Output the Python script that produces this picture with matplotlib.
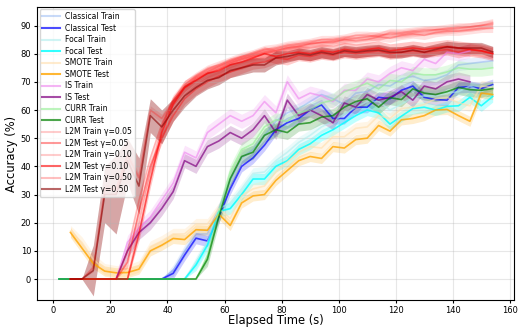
import numpy as np
import matplotlib
matplotlib.use('Agg')
from matplotlib import pyplot as plt

plt.rcParams['font.family'] = ['DejaVu Sans']

N = None
# elapsed time (s) of each logged epoch
t = [2, 6, 10, 14, 18, 22, 26, 30, 34, 38, 42, 46, 50, 54, 58, 62, 66, 70, 74, 78,
     82, 86, 90, 94, 98, 102, 106, 110, 114, 118, 122, 126, 130, 134, 138, 142, 146, 150, 154]

classical_train = [0, 0, 0, 0, 0, 0, 0, 0, 0, 0, 3, 10, 16, 16, 25, 35, 43, 46, 51, 56,
                   59, 60.5, 63, 65.5, 64, 62, 66, 66.5, 69, 68.5, 71, 72, 70.5, 71, 72.5, 76, 76.5, 77, 77.5]
classical_test = [0, 0, 0, 0, 0, 0, 0, 0, 0, 0, 2, 8.5, 14.5, 13.5, 22, 32, 40, 43, 47.5, 53,
                  55.5, 57, 60, 61.8, 57, 57, 61, 61, 64.5, 64, 67, 68.5, 64.5, 63.7, 63.5, 68, 68.3, 67.6, 69]
focal_train = [0, 0, 0, 0, 0, 0, 0, 0, 0, 0, 0, 0, 6, 13, 25, 27, 32, 37.5, 38, 42,
               45, 48.5, 51, 54, 56, 58.5, 61, 63, 63, 60, 62, 64.5, 65, 65, 66, 66.5, 68.5, 66.5, 68.5]
focal_test = [0, 0, 0, 0, 0, 0, 0, 0, 0, 0, 0, 0, 5, 12, 24, 25, 30, 35.5, 35.5, 40,
              42, 46, 48, 51, 53, 55.5, 58, 60, 59, 55, 57.8, 60.5, 61, 60, 61.3, 61.5, 64.5, 61.5, 64.8]
smote_train = [N, 17, 13, 7, 3.5, 2.8, 3, 4.5, 11.5, 13.5, 16, 16, 19.5, 19.5, 25, 21.5, 29.5, 32, 33, 38,
               41.5, 45, 47, 46.5, 50.5, 50.5, 53.5, 54, 58, 57, 60.5, 61, 62, 64, 64.5, 62.5, 61.5, 68.5, 68]
smote_test = [N, 16.5, 11, 5.5, 2.8, 2.2, 2.3, 3.5, 10, 12, 14.4, 14, 17.5, 17.3, 23, 19, 27, 29.5, 30, 35,
              38.5, 42, 43.5, 42.8, 47, 46.5, 49.5, 50, 54.5, 52.5, 56.5, 57, 58, 60, 60.2, 58, 56, 66, 65.5]
is_train = [N, N, N, N, N, 0, 13, 18, 22, 28, 34, 45, 43, 52, 55, 58, 56, 58, 63, 59,
            70, 64, 66, 65, 63, 67, 67, 71, 70, 73, 75, 74, 78, 76.5, 80.5, 80, 81, N, N]
is_test = [N, N, N, N, N, 0, 10, 16.5, 20, 25, 31, 42, 40, 47, 49, 52, 50, 53, 58, 52,
           63.5, 58, 60, 58, 55.5, 62.5, 61, 65.5, 63.5, 64.5, 66.5, 63.5, 68.5, 67.5, 70, 71, 70, N, N]
curr_train = [0, 0, 0, 0, 0, 0, 0, 0, 0, 0, 0, 0, 0, 8, 24, 38, 46, 48, 54, 56.5,
              56, 59, 60, 62.5, 63.5, 66.5, 68, 69.5, 67.5, 70.5, 70, 73, 72.5, 72.5, 73.5, 75, 74.5, 74.5, 75]
curr_test = [0, 0, 0, 0, 0, 0, 0, 0, 0, 0, 0, 0, 0, 7, 22, 35.6, 43.5, 45, 51, 53,
             52, 55, 55.5, 57.5, 58, 61, 63, 64, 61, 64.4, 63.7, 67.5, 66, 65.5, 66.5, 68, 67.2, 67, 67.6]
l2m_train_005 = [N, 0, 0, 0, 0, 0, 10, 28, 43, 55, 63, 68, 71.5, 73.5, 75.5, 77, 78.5, 79.5, 80.5, 81.5,
                 82.5, 83, 83.5, 84, 84.5, 85, 85.5, 86, 86.5, 87, 87, 87.5, 88, 88.5, 88.5, 89, 89.5, 90, 91]
l2m_test_005 = [N, 0, 0, 0, 0, 0, 6, 24, 40, 50, 58, 64, 67.5, 70, 72, 73.5, 75, 76.5, 77, 78.5,
                78, 79.5, 79, 80, 79.5, 80.5, 80, 80.5, 81, 80, 80.5, 81, 80.5, 81, 81.5, 80.5, 81.5, 81, 80]
l2m_train_010 = [N, 0, 0, 0, 0, 0, 0, 20, 38, 54, 64, 69, 72, 74.5, 76, 77.5, 79, 80, 81.5, 82,
                 83, 83.5, 84, 85, 85, 85.5, 86.5, 86.5, 86, 87.5, 87.5, 88, 88.5, 88.5, 89, 89.5, 89.5, 90, 90.5]
l2m_test_010 = [N, 0, 0, 0, 0, 0, 0, 16, 35, 52, 62, 68, 70.5, 73, 74, 76, 77, 78.5, 80, 79,
                80, 80.5, 80, 81, 80.5, 81.5, 81, 81.5, 82, 81, 81.5, 82, 81.5, 82, 82.5, 82, 81.5, 81, 80]
l2m_train_050 = [N, 0, 0, 4, 32, 32, 44, 36, 60, 57, 63, 68, 71, 73, 74.5, 76.5, 78, 79, 80, 81,
                 82, 82.5, 83.5, 84, 84, 85, 84.5, 85, 86, 85.5, 86.5, 87, 86.5, 87.5, 88, 88, 88.5, 89, 89]
l2m_test_050 = [N, 0, 0, 3, 30, 30, 42, 33, 58, 54, 60, 65, 68, 70.5, 71.5, 74, 75, 76, 76, 78.5,
                79, 80, 79.5, 80.5, 79.8, 81, 80.5, 81, 81.3, 80.5, 80.5, 81.3, 80.5, 81.5, 82.4, 82, 82, 82, 80.6]
l2m_test_050_band = [0, 0, 0, 9, 10, 14, 8, 10, 6, 6, 4, 4, 3, 3, 2.5, 2.5, 2.5, 2.5, 2.5, 2.5,
                     2, 2, 2, 2, 2, 2, 2, 2, 2, 2, 2, 2, 2, 2, 2, 2, 2, 2, 2]

# label, values, colour, line alpha, band alpha, band half width
series = [
    ('Classical Train', classical_train, 'cornflowerblue', 0.35, 0.15, 2),
    ('Classical Test', classical_test, 'blue', 0.7, 0.2, 2),
    ('Focal Train', focal_train, 'paleturquoise', 0.6, 0.25, 2),
    ('Focal Test', focal_test, 'cyan', 0.8, 0.25, 2),
    ('SMOTE Train', smote_train, 'navajowhite', 0.6, 0.3, 2),
    ('SMOTE Test', smote_test, 'orange', 0.8, 0.2, 1.8),
    ('IS Train', is_train, 'violet', 0.6, 0.2, 2.5),
    ('IS Test', is_test, 'purple', 0.7, 0.2, 2.5),
    ('CURR Train', curr_train, 'lightgreen', 0.6, 0.25, 2.5),
    ('CURR Test', curr_test, 'green', 0.7, 0.2, 2.5),
    ('L2M Train γ=0.05', l2m_train_005, 'red', 0.2, 0.12, 1.5),
    ('L2M Test γ=0.05', l2m_test_005, 'red', 0.4, 0.2, 2),
    ('L2M Train γ=0.10', l2m_train_010, 'red', 0.2, 0.12, 1.5),
    ('L2M Test γ=0.10', l2m_test_010, 'red', 0.6, 0.22, 2.5),
    ('L2M Train γ=0.50', l2m_train_050, 'red', 0.25, 0.12, 1.5),
    ('L2M Test γ=0.50', l2m_test_050, 'darkred', 0.6, 0.35, l2m_test_050_band),
]

fig = plt.figure(figsize=(5.19, 3.27), dpi=100)
ax = fig.add_axes([0.072, 0.083, 0.918, 0.895])
tt = np.array(t, dtype=float)
for label, vals, col, a, ba, band in series:
    v = np.array([np.nan if x is None else x for x in vals], dtype=float)
    b = np.array(band, dtype=float) * np.ones_like(v)
    b = np.where(v == 0, 0, b)   # runs stuck at zero have no spread
    ax.fill_between(tt, v - b, v + b, color=col, alpha=ba, linewidth=0)
    ax.plot(tt, v, color=col, alpha=a, linewidth=1.2, label=label)

ax.set_xlim(-5.6, 161.4)
ax.set_ylim(-7.4, 96.5)
ax.set_xticks(range(0, 161, 20))
ax.set_yticks(range(0, 91, 10))
ax.tick_params(labelsize=6, length=2.5, pad=2)
ax.grid(True, alpha=0.3)
ax.set_xlabel('Elapsed Time (s)', fontsize=8.3, labelpad=-0.5)
ax.set_ylabel('Accuracy (%)', fontsize=8.3, labelpad=2)
leg = ax.legend(loc='upper left', fontsize=5.5, labelspacing=0.33, handlelength=2.3,
                borderaxespad=0.3, borderpad=0.35, handletextpad=0.7)
for h in leg.get_lines():
    h.set_linewidth(1.5)

plt.savefig('out.png', dpi=100)
